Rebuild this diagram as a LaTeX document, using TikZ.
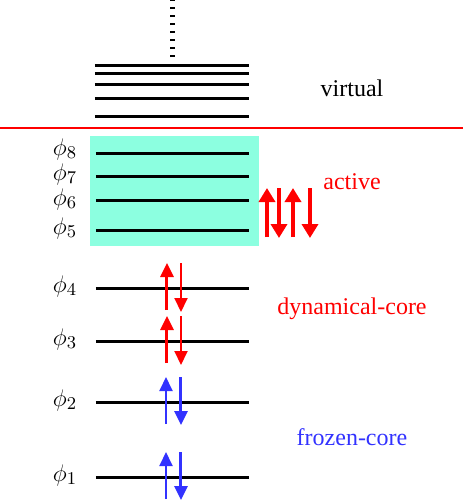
\documentclass[tikz,border=0pt]{standalone}
\usepackage{fontspec}
\setmainfont{Liberation Serif}
\usetikzlibrary{arrows.meta}
\definecolor{activebg}{RGB}{140,255,224}
\definecolor{coreblue}{RGB}{50,50,255}
\begin{document}
\begin{tikzpicture}[x=0.5pt, y=-0.5pt,
  level/.style={line width=1.5pt},
  orb/.style={font=\fontsize{13}{15}\selectfont, inner sep=0pt},
  tag/.style={font=\fontsize{12}{14}\selectfont},
  spin/.style={line width=1.5pt, -{Triangle[length=7pt, width=6.5pt]}},
  bigspin/.style={line width=2pt, -{Triangle[length=7pt, width=8pt]}}]
\useasboundingbox (0,0) rectangle (463,500);
% Active space (behind the levels)
\fill[activebg] (90,136) rectangle (259,246);
% Virtual orbitals, continuing upward
\draw[line width=2.5pt, dash pattern=on 1pt off 3pt] (173,57) -- (173,0);
\foreach \y in {65,73,84,98,116}
  \draw[level] (95,\y) -- (249,\y);
\node[tag] (virt) at (352,88) {virtual};
% Occupied / virtual boundary
\draw[red, line width=1pt] (0,128) -- (463,128);
% Active orbitals
\foreach \y/\n/\ly in {153/8/149,176/7/174,200/6/199,230/5/228} {
  \draw[level] (96,\y) -- (249,\y);
  \node[orb] (phi\n) at (65,\ly) {$\phi_{\n}$};
}
\node[tag, red] (act) at (352,182) {active};
\draw[bigspin, red] (267,237) -- (267,188);
\draw[bigspin, red] (279,188) -- (279,238);
\draw[bigspin, red] (293,237) -- (293,188);
\draw[bigspin, red] (310,188) -- (310,238);
% Dynamical-core orbitals
\foreach \y/\n in {288/4,341/3} {
  \draw[level] (96,\y) -- (249,\y);
  \node[orb] (phi\n) at (65,\y-2) {$\phi_{\n}$};
  \draw[spin, red] (167,\y+22) -- (167,\y-25);
  \draw[spin, red, line width=1pt] (181,\y-25) -- (181,\y+24);
}
\node[tag, red] (dyn) at (352,309) {dynamical-core};
% Frozen-core orbitals
\foreach \y/\n in {402/2,477/1} {
  \draw[level] (96,\y) -- (249,\y);
  \node[orb] (phi\n) at (65,\y-2) {$\phi_{\n}$};
  \draw[spin, coreblue, line width=1pt] (166,\y+22) -- (166,\y-25);
  \draw[spin, coreblue] (181,\y-25) -- (181,\y+23);
}
\node[tag, coreblue] (froz) at (352,437) {frozen-core};
\end{tikzpicture}
\end{document}
